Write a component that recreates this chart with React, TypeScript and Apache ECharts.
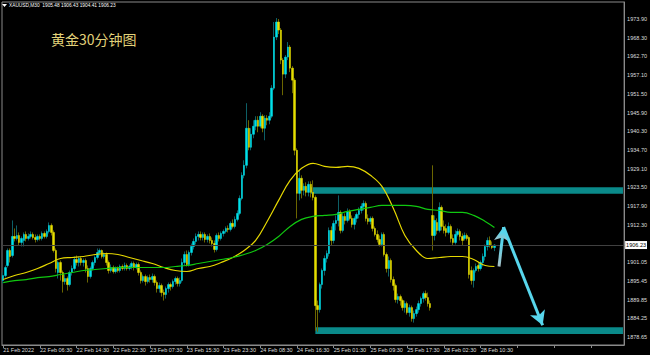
import React, { useEffect, useRef } from 'react';
import * as echarts from 'echarts';

const SLOT_COUNT = 271;
const categories: string[] = Array.from({ length: SLOT_COUNT }, (_, i) => String(i));

const tickLabels = [
  '21 Feb 2022', '22 Feb 06:30', '22 Feb 14:30', '22 Feb 22:30', '23 Feb 07:30',
  '23 Feb 15:30', '23 Feb 23:30', '24 Feb 08:30', '24 Feb 16:30', '25 Feb 01:30',
  '25 Feb 09:30', '25 Feb 17:30', '28 Feb 02:30', '28 Feb 10:30',
];

const yTicks = [
  1878.65, 1884.25, 1889.85, 1895.45, 1901.05, 1912.3, 1917.9, 1923.5, 1929.1,
  1934.7, 1940.3, 1945.9, 1951.5, 1957.1, 1962.7, 1968.3, 1973.9,
];

const lastPrice = 1906.23;
const headerText = 'XAUUSD,M30  1905.48 1906.43 1904.41 1906.23';
const titleText = '黄金30分钟图';

// [open, close, low, high]
const candles: number[][] = [
  [1895.6, 1897.1, 1894.7, 1898.0], [1897.1, 1899.5, 1896.5, 1900.1], [1900.1, 1904.6, 1899.5, 1905.2], [1904.6, 1902.8, 1901.0, 1905.2],
  [1903.1, 1908.8, 1902.5, 1913.6], [1908.8, 1908.2, 1907.3, 1911.2], [1908.2, 1909.1, 1907.6, 1912.1], [1909.1, 1907.0, 1906.1, 1910.0],
  [1907.0, 1908.2, 1905.8, 1908.8], [1907.6, 1909.4, 1905.8, 1910.0], [1909.4, 1908.2, 1907.3, 1910.3], [1908.2, 1908.8, 1907.6, 1909.7],
  [1908.8, 1909.4, 1908.2, 1910.3], [1909.4, 1908.5, 1907.9, 1910.0], [1908.5, 1907.9, 1907.0, 1909.4], [1907.9, 1908.8, 1907.3, 1909.4],
  [1908.8, 1908.2, 1907.6, 1909.4], [1908.2, 1909.7, 1907.6, 1910.3], [1909.7, 1908.8, 1908.2, 1910.3], [1908.8, 1910.3, 1908.2, 1910.9],
  [1910.3, 1912.1, 1909.7, 1913.0], [1912.1, 1910.0, 1909.1, 1912.7], [1910.0, 1904.6, 1904.0, 1910.6], [1904.6, 1899.2, 1898.0, 1905.2],
  [1898.0, 1901.0, 1896.2, 1901.6], [1901.0, 1898.0, 1895.6, 1901.6], [1898.0, 1895.3, 1892.0, 1898.6], [1895.3, 1896.2, 1894.4, 1897.4],
  [1896.2, 1894.4, 1892.6, 1896.8], [1894.4, 1898.0, 1893.8, 1898.6], [1898.0, 1899.2, 1897.1, 1900.1], [1899.2, 1901.9, 1898.6, 1902.8],
  [1901.9, 1901.0, 1900.1, 1903.1], [1901.0, 1902.2, 1899.8, 1902.8], [1902.2, 1901.0, 1900.1, 1902.8], [1901.0, 1901.6, 1899.8, 1902.2],
  [1901.6, 1899.2, 1898.0, 1902.2], [1899.2, 1896.8, 1895.0, 1900.1], [1896.8, 1899.2, 1896.2, 1899.8], [1899.2, 1901.0, 1898.6, 1901.6],
  [1901.0, 1902.5, 1900.1, 1903.1], [1902.5, 1904.0, 1901.9, 1905.2], [1904.0, 1904.6, 1903.1, 1905.2], [1904.6, 1902.8, 1902.2, 1904.9],
  [1902.8, 1903.4, 1902.2, 1904.0], [1903.4, 1901.0, 1900.1, 1904.0], [1901.0, 1898.6, 1897.7, 1901.6], [1898.6, 1899.5, 1898.0, 1900.4],
  [1899.5, 1898.3, 1897.7, 1900.1], [1898.3, 1899.2, 1897.7, 1899.8], [1899.2, 1898.6, 1898.0, 1899.8], [1898.6, 1899.8, 1898.0, 1900.4],
  [1899.8, 1899.2, 1898.6, 1900.4], [1899.2, 1900.1, 1898.6, 1901.0], [1900.1, 1899.2, 1898.6, 1900.7], [1899.2, 1899.8, 1898.6, 1900.4],
  [1899.8, 1900.7, 1898.9, 1901.3], [1900.7, 1899.5, 1898.6, 1901.3], [1899.5, 1900.4, 1898.9, 1901.0], [1900.4, 1898.0, 1897.1, 1901.0],
  [1898.0, 1895.6, 1894.7, 1898.6], [1895.6, 1896.8, 1895.0, 1897.4], [1896.8, 1895.3, 1894.1, 1897.4], [1895.3, 1896.5, 1894.7, 1897.1],
  [1896.5, 1895.9, 1895.0, 1897.4], [1895.9, 1896.8, 1895.0, 1897.7], [1896.8, 1895.0, 1894.1, 1897.4], [1895.0, 1893.2, 1892.0, 1895.6],
  [1893.2, 1894.1, 1892.0, 1895.0], [1894.1, 1892.0, 1890.8, 1894.7], [1892.0, 1891.4, 1889.6, 1892.9], [1891.4, 1893.2, 1890.2, 1893.8],
  [1893.2, 1894.4, 1892.0, 1895.0], [1894.4, 1893.8, 1892.6, 1895.0], [1893.8, 1895.3, 1893.2, 1895.9], [1895.3, 1896.2, 1894.4, 1896.8],
  [1896.2, 1894.7, 1893.8, 1896.8], [1894.7, 1895.6, 1893.8, 1896.5], [1895.6, 1901.0, 1895.0, 1902.2], [1901.0, 1903.4, 1900.1, 1904.3],
  [1903.4, 1900.4, 1899.8, 1904.6], [1900.4, 1904.0, 1899.8, 1904.6], [1904.0, 1905.8, 1903.1, 1906.7], [1905.8, 1907.3, 1904.9, 1908.2],
  [1907.3, 1908.8, 1906.4, 1909.7], [1908.8, 1909.4, 1907.6, 1910.3], [1909.4, 1908.5, 1907.6, 1910.3], [1908.5, 1909.4, 1907.6, 1910.0],
  [1909.4, 1907.9, 1907.0, 1910.0], [1907.9, 1908.8, 1907.0, 1909.4], [1908.8, 1907.6, 1906.7, 1909.7], [1907.6, 1906.7, 1905.8, 1908.5],
  [1906.7, 1904.9, 1904.0, 1907.6], [1904.9, 1909.1, 1904.3, 1909.7], [1909.1, 1908.2, 1907.3, 1910.0], [1908.2, 1909.7, 1907.6, 1910.3],
  [1909.7, 1910.3, 1908.8, 1910.9], [1910.3, 1911.2, 1909.7, 1911.8], [1911.2, 1910.9, 1910.0, 1912.1], [1910.9, 1912.7, 1910.3, 1913.3],
  [1912.7, 1911.8, 1911.2, 1913.9], [1911.8, 1913.9, 1911.2, 1914.8], [1913.9, 1915.7, 1913.3, 1916.6], [1915.7, 1920.2, 1915.1, 1921.1],
  [1920.2, 1927.1, 1919.6, 1928.0], [1927.1, 1930.1, 1926.2, 1931.6], [1930.1, 1941.2, 1929.2, 1948.7], [1941.2, 1935.5, 1934.6, 1943.6],
  [1935.5, 1939.4, 1934.6, 1941.2], [1939.4, 1941.8, 1938.2, 1943.6], [1941.8, 1943.6, 1940.6, 1944.8], [1943.6, 1941.8, 1940.0, 1944.8],
  [1941.8, 1944.8, 1941.2, 1946.0], [1944.8, 1941.2, 1940.0, 1945.4], [1941.2, 1944.2, 1937.6, 1945.1], [1944.2, 1943.6, 1942.1, 1945.1],
  [1943.6, 1944.8, 1942.4, 1946.0], [1944.8, 1953.2, 1944.2, 1954.1], [1953.2, 1968.5, 1952.6, 1973.0], [1968.5, 1973.0, 1967.6, 1974.2],
  [1973.0, 1970.6, 1969.4, 1973.9], [1970.6, 1961.6, 1960.4, 1971.2], [1961.6, 1957.4, 1951.1, 1962.2], [1957.4, 1962.5, 1956.2, 1963.1],
  [1962.5, 1965.5, 1961.6, 1967.0], [1965.5, 1959.2, 1958.0, 1966.1], [1959.2, 1955.6, 1951.7, 1959.8], [1955.6, 1934.6, 1933.1, 1956.2],
  [1934.6, 1921.7, 1914.2, 1935.2], [1921.7, 1926.2, 1919.6, 1928.6], [1926.2, 1922.6, 1920.2, 1927.1], [1922.6, 1923.8, 1921.1, 1924.7],
  [1923.8, 1922.0, 1920.8, 1925.0], [1922.0, 1924.4, 1920.8, 1925.3], [1924.4, 1922.0, 1920.5, 1925.3], [1922.0, 1920.5, 1919.6, 1925.6],
  [1920.5, 1888.1, 1880.6, 1921.1], [1888.1, 1886.9, 1880.3, 1889.6], [1886.9, 1894.4, 1886.0, 1895.0], [1894.4, 1898.6, 1893.2, 1899.2],
  [1898.6, 1902.2, 1897.1, 1903.1], [1902.2, 1903.7, 1901.0, 1904.6], [1903.7, 1910.6, 1902.8, 1911.5], [1910.6, 1907.6, 1906.1, 1911.8],
  [1907.6, 1912.7, 1906.7, 1913.6], [1912.7, 1913.6, 1910.6, 1915.1], [1913.6, 1916.0, 1911.8, 1921.1], [1916.0, 1910.6, 1909.7, 1916.6],
  [1910.6, 1914.8, 1910.0, 1915.7], [1914.8, 1913.6, 1912.4, 1915.7], [1913.6, 1916.3, 1913.0, 1917.2], [1916.3, 1914.2, 1913.6, 1916.9],
  [1914.2, 1912.4, 1911.5, 1915.1], [1912.4, 1914.2, 1910.9, 1914.8], [1914.2, 1915.4, 1913.0, 1916.0], [1915.4, 1916.6, 1914.2, 1917.5],
  [1916.6, 1917.8, 1915.7, 1918.7], [1917.8, 1918.7, 1916.6, 1919.6], [1918.7, 1914.2, 1913.3, 1919.3], [1914.2, 1913.3, 1912.4, 1915.4],
  [1913.3, 1914.2, 1912.4, 1914.8], [1914.2, 1911.2, 1910.3, 1914.8], [1911.2, 1909.4, 1908.8, 1911.8], [1909.4, 1907.9, 1907.0, 1910.6],
  [1907.9, 1906.4, 1905.8, 1909.1], [1906.4, 1909.4, 1905.8, 1910.0], [1909.4, 1903.4, 1902.8, 1910.0], [1903.4, 1899.2, 1898.0, 1904.0],
  [1899.2, 1901.6, 1896.8, 1902.8], [1901.6, 1895.9, 1895.0, 1902.2], [1895.9, 1894.1, 1892.6, 1896.8], [1894.1, 1889.9, 1889.0, 1894.7],
  [1889.9, 1890.8, 1888.7, 1891.7], [1890.8, 1889.6, 1888.1, 1891.4], [1889.6, 1887.5, 1886.6, 1890.2], [1887.5, 1888.7, 1886.0, 1889.6],
  [1888.7, 1886.0, 1885.4, 1889.3], [1886.0, 1887.5, 1884.8, 1888.4], [1887.5, 1884.2, 1883.3, 1888.1], [1884.2, 1885.7, 1883.0, 1886.6],
  [1885.7, 1886.9, 1884.8, 1887.8], [1886.9, 1888.7, 1886.0, 1889.6], [1888.7, 1890.2, 1887.8, 1890.8], [1890.2, 1891.7, 1889.0, 1892.3],
  [1891.7, 1890.5, 1889.6, 1892.6], [1890.5, 1888.7, 1887.8, 1892.0], [1888.7, 1887.5, 1886.6, 1889.6], [1915.1, 1909.1, 1904.6, 1930.1],
  [1909.1, 1913.6, 1907.6, 1915.1], [1913.0, 1910.6, 1909.4, 1914.2], [1910.6, 1917.5, 1910.0, 1919.0], [1917.5, 1911.8, 1910.6, 1918.1],
  [1911.8, 1910.6, 1909.7, 1913.6], [1911.2, 1910.0, 1908.8, 1912.4], [1910.0, 1911.8, 1909.4, 1913.0], [1911.8, 1908.2, 1907.0, 1912.4],
  [1908.2, 1907.0, 1906.1, 1909.4], [1907.0, 1909.4, 1906.4, 1910.6], [1909.4, 1910.3, 1908.8, 1911.2], [1910.3, 1908.8, 1907.6, 1910.9],
  [1908.8, 1907.6, 1906.1, 1909.7], [1908.2, 1909.1, 1907.6, 1910.0], [1909.1, 1908.2, 1907.6, 1909.7], [1908.5, 1897.4, 1896.2, 1908.8],
  [1898.6, 1895.6, 1894.4, 1899.8], [1895.6, 1898.6, 1893.5, 1899.2], [1898.6, 1899.8, 1898.0, 1900.7], [1900.1, 1899.2, 1898.3, 1901.0],
  [1899.2, 1901.0, 1898.6, 1901.6], [1901.0, 1902.8, 1899.8, 1903.7], [1902.8, 1905.8, 1901.6, 1906.4], [1905.8, 1907.6, 1904.6, 1908.5],
  [1907.6, 1906.1, 1905.5, 1908.8], [1906.1, 1905.5, 1905.0, 1907.3], [1905.48, 1906.23, 1904.41, 1906.43],
];

const maIndex = [
  0, 5, 10, 15, 20, 25, 30, 35, 40, 45, 50, 55, 60, 65, 70, 75, 80, 85, 90, 95, 100, 105,
  110, 115, 120, 125, 130, 135, 140, 145, 150, 155, 160, 165, 170, 175, 180, 185, 190, 195, 200, 205, 210, 214,
];
const maYellow = [
  1895.9, 1897.1, 1898.0, 1899.2, 1900.7, 1902.2, 1902.5, 1902.8, 1903.4, 1903.7,
  1903.4, 1902.5, 1901.6, 1900.7, 1899.5, 1898.6, 1898.3, 1899.2, 1899.8, 1901.0,
  1902.5, 1904.6, 1907.6, 1913.3, 1919.6, 1925.6, 1929.2, 1930.7, 1929.8, 1929.5,
  1929.8, 1929.2, 1927.1, 1923.8, 1917.2, 1909.1, 1904.6, 1902.2, 1902.5, 1902.8,
  1902.8, 1901.9, 1900.1, 1899.8,
];
const maGreen = [
  1895.0, 1895.6, 1895.9, 1896.5, 1896.8, 1897.4, 1898.0, 1898.6, 1898.9, 1899.2,
  1899.5, 1899.5, 1899.5, 1899.5, 1899.5, 1899.8, 1900.1, 1900.7, 1901.3, 1901.9,
  1902.5, 1903.4, 1904.6, 1906.4, 1908.8, 1911.8, 1913.9, 1914.8, 1915.1, 1915.4,
  1916.3, 1916.9, 1917.5, 1918.1, 1918.1, 1918.1, 1917.8, 1916.9, 1916.6, 1916.0,
  1916.0, 1915.1, 1913.3, 1911.5,
];

// zones: [startIndex, topPrice, bottomPrice]
const resistanceZone = [134, 1923.5, 1921.6];
const supportZone = [136, 1881.6, 1879.6];
const zoneEnd = 270;

// forecast arrow path in [index, price]
const arrowPath = [
  [216, 1899.8],
  [218, 1911.6],
  [235, 1882.2],
];

export default function App() {
  const ref = useRef<HTMLDivElement>(null);

  useEffect(() => {
    document.body.style.margin = '0';
    document.body.style.background = '#000';
    const chart = echarts.init(ref.current!, null, { renderer: 'svg' });

    const bodies = candles.map(([o, c]) => [o, c, Math.min(o, c), Math.max(o, c)]);

    const option: any = {
      animation: false,
      backgroundColor: '#000',
      grid: {
        left: 2, right: 21, top: 2, bottom: 10,
        show: true, borderColor: '#8a8a8a', borderWidth: 1,
      },
      xAxis: {
        type: 'category',
        data: categories,
        boundaryGap: true,
        axisLine: { lineStyle: { color: '#8a8a8a', width: 1 } },
        axisTick: { show: true, interval: 15, alignWithLabel: true, length: 3, lineStyle: { color: '#8a8a8a' } },
        axisLabel: {
          interval: 15,
          formatter: (_v: string, i: number) => (i % 16 === 0 && tickLabels[i / 16]) || '',
          align: 'left',
          color: '#dddddd',
          fontSize: 5.5,
          margin: 2,
          fontFamily: 'Liberation Sans',
        },
        splitLine: { show: false },
      },
      yAxis: {
        type: 'value',
        position: 'right',
        min: 1876.3,
        max: 1979.0,
        axisLine: { show: true, lineStyle: { color: '#8a8a8a' } },
        axisTick: { show: false },
        splitLine: { show: false },
        axisLabel: {
          customValues: yTicks,
          formatter: (v: number) => v.toFixed(2),
          color: '#dddddd',
          fontSize: 5.5,
          margin: 3,
          fontFamily: 'Liberation Sans',
        },
      },
      series: [
        {
          type: 'line',
          data: [],
          z: 1,
          silent: true,
          markArea: {
            silent: true,
            itemStyle: { color: '#0a8a8a' },
            data: [
              [{ coord: [resistanceZone[0], resistanceZone[1]] }, { coord: [zoneEnd, resistanceZone[2]] }],
              [{ coord: [supportZone[0], supportZone[1]] }, { coord: [zoneEnd, supportZone[2]] }],
            ],
          },
        },
        {
          type: 'candlestick',
          data: candles,
          barWidth: 1,
          z: 2,
          silent: true,
          itemStyle: {
            color: '#0d5f66', color0: '#6b6600',
            borderColor: '#0d5f66', borderColor0: '#6b6600', borderWidth: 1,
          },
        },
        {
          type: 'candlestick',
          data: bodies,
          barWidth: 2,
          z: 3,
          silent: true,
          itemStyle: {
            color: '#00e0ea', color0: '#e6de00',
            borderColor: '#00e0ea', borderColor0: '#e6de00', borderWidth: 0.5,
          },
          markLine: {
            silent: true,
            symbol: ['none', 'none'],
            lineStyle: { color: '#404040', width: 1, type: 'solid' },
            label: {
              show: true,
              position: 'end',
              formatter: lastPrice.toFixed(2),
              backgroundColor: '#ffffff',
              color: '#000000',
              fontSize: 5.5,
              padding: [1, 1],
              distance: 1,
              fontFamily: 'Liberation Sans',
            },
            data: [{ yAxis: lastPrice }],
          },
        },
        {
          type: 'line',
          data: maIndex.map((x, k) => [x, maYellow[k]]),
          smooth: 0.4,
          showSymbol: false,
          z: 4,
          silent: true,
          lineStyle: { color: '#e6d800', width: 1.2 },
        },
        {
          type: 'line',
          data: maIndex.map((x, k) => [x, maGreen[k]]),
          smooth: 0.4,
          showSymbol: false,
          z: 4,
          silent: true,
          lineStyle: { color: '#10c810', width: 1.2 },
        },
        {
          type: 'line',
          data: [],
          z: 5,
          silent: true,
          markLine: {
            silent: true,
            symbol: ['none', 'arrow'],
            symbolSize: [12, 14],
            label: { show: false },
            lineStyle: { color: '#58d6ec', width: 3, type: 'solid' },
            data: [
              [
                { coord: arrowPath[0], lineStyle: { color: new echarts.graphic.LinearGradient(0, 1, 0, 0, [
                  { offset: 0, color: '#a8bfc6' }, { offset: 0.6, color: '#58d6ec' }, { offset: 1, color: '#58d6ec' },
                ]) } },
                { coord: arrowPath[1] },
              ],
              [{ coord: arrowPath[1] }, { coord: arrowPath[2] }],
            ],
          },
        },
      ],
      graphic: [
        { type: 'polygon', shape: { points: [[2, 4], [7, 4], [4.5, 7]] }, style: { fill: '#ffffff' } },
        {
          type: 'text', left: 9, top: 3,
          style: { text: headerText, fill: '#ffffff', fontSize: 4.8, fontFamily: 'Liberation Sans' },
        },
        {
          type: 'text', left: 51, top: 32,
          style: { text: titleText, fill: '#e2d27a', fontSize: 14, fontFamily: 'Noto Sans CJK SC' },
        },
      ],
    };

    chart.setOption(option);
    return () => chart.dispose();
  }, []);

  return <div ref={ref} style={{ width: 650, height: 355, background: '#000' }} />;
}
